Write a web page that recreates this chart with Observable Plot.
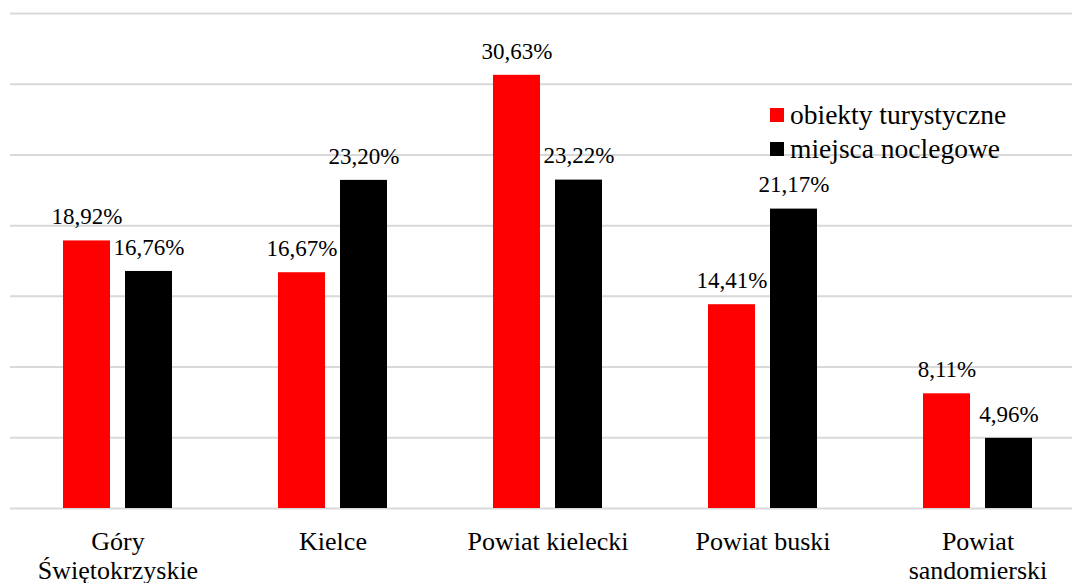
<!DOCTYPE html>
<html>
<head>
<meta charset="utf-8">
<script src="https://cdn.jsdelivr.net/npm/d3@7"></script>
<script src="https://cdn.jsdelivr.net/npm/@observablehq/plot@0.6"></script>
<style>
  html, body { margin: 0; padding: 0; background: #fff; overflow: hidden; }
  #wrap { position: relative; width: 1072px; height: 583px; font-family: "Times New Roman", "Liberation Serif", Tinos, "DejaVu Serif", serif; }
  #legend { position: absolute; left: 770px; top: 98px; font-size: 27.5px; line-height: 34px; color: #000; }
  #legend .row { display: flex; align-items: center; white-space: nowrap; }
  #legend .sw { width: 14px; height: 14px; margin-right: 6px; display: inline-block; }
  svg text { font-family: "Times New Roman", "Liberation Serif", Tinos, "DejaVu Serif", serif; }
</style>
</head>
<body>
<div id="wrap"><div id="legend"></div></div>
<script>
const categories = ["Góry\nŚwiętokrzyskie", "Kielce", "Powiat kielecki", "Powiat buski", "Powiat\nsandomierski"];
const seriesNames = ["obiekty turystyczne", "miejsca noclegowe"];
const seriesColors = ["#ff0000", "#000000"];
const obiekty = [18.92, 16.67, 30.63, 14.41, 8.11];
const miejsca = [16.76, 23.20, 23.22, 21.17, 4.96];
const yTicks = [0, 5, 10, 15, 20, 25, 30, 35];

const fmt = v => v.toFixed(2).replace(".", ",") + "%";
const dataA = categories.map((c, i) => ({cat: c, value: obiekty[i]}));
const dataB = categories.map((c, i) => ({cat: c, value: miejsca[i]}));

const font = '"Times New Roman", "Liberation Serif", Tinos, "DejaVu Serif", serif';
const chart = Plot.plot({
  width: 1072,
  height: 583,
  marginTop: 13,
  marginBottom: 75,
  marginLeft: 10,
  marginRight: 0,
  style: {fontFamily: font, background: "transparent", overflow: "hidden"},
  x: {type: "band", domain: categories, range: [10, 1085], padding: 0, axis: null},
  y: {domain: [0, 35], axis: null},
  marks: [
    Plot.ruleY(yTicks, {stroke: "#d9d9d9", strokeWidth: 2}),
    Plot.barY(dataA, {x: "cat", y: "value", fill: seriesColors[0], insetLeft: 53, insetRight: 115}),
    Plot.barY(dataB, {x: "cat", y: "value", fill: seriesColors[1], insetLeft: 115, insetRight: 53}),
    Plot.text(dataA, {x: "cat", y: "value", text: d => fmt(d.value), dx: -31, dy: -24, lineAnchor: "middle", fontSize: 23, fill: "#000"}),
    Plot.text(dataB, {x: "cat", y: "value", text: d => fmt(d.value), dx: 31, dy: -24, lineAnchor: "middle", fontSize: 23, fill: "#000"}),
    Plot.text(categories, {x: d => d, y: () => 0, text: d => d, lineAnchor: "top", dy: 21, fontSize: 26, lineHeight: 1.12, fill: "#000"})
  ]
});
document.getElementById("wrap").prepend(chart);

const legend = document.getElementById("legend");
seriesNames.forEach((n, i) => {
  const row = document.createElement("div");
  row.className = "row";
  const sw = document.createElement("span");
  sw.className = "sw";
  sw.style.background = seriesColors[i];
  const t = document.createElement("span");
  t.textContent = n;
  row.append(sw, t);
  legend.append(row);
});
</script>
</body>
</html>
